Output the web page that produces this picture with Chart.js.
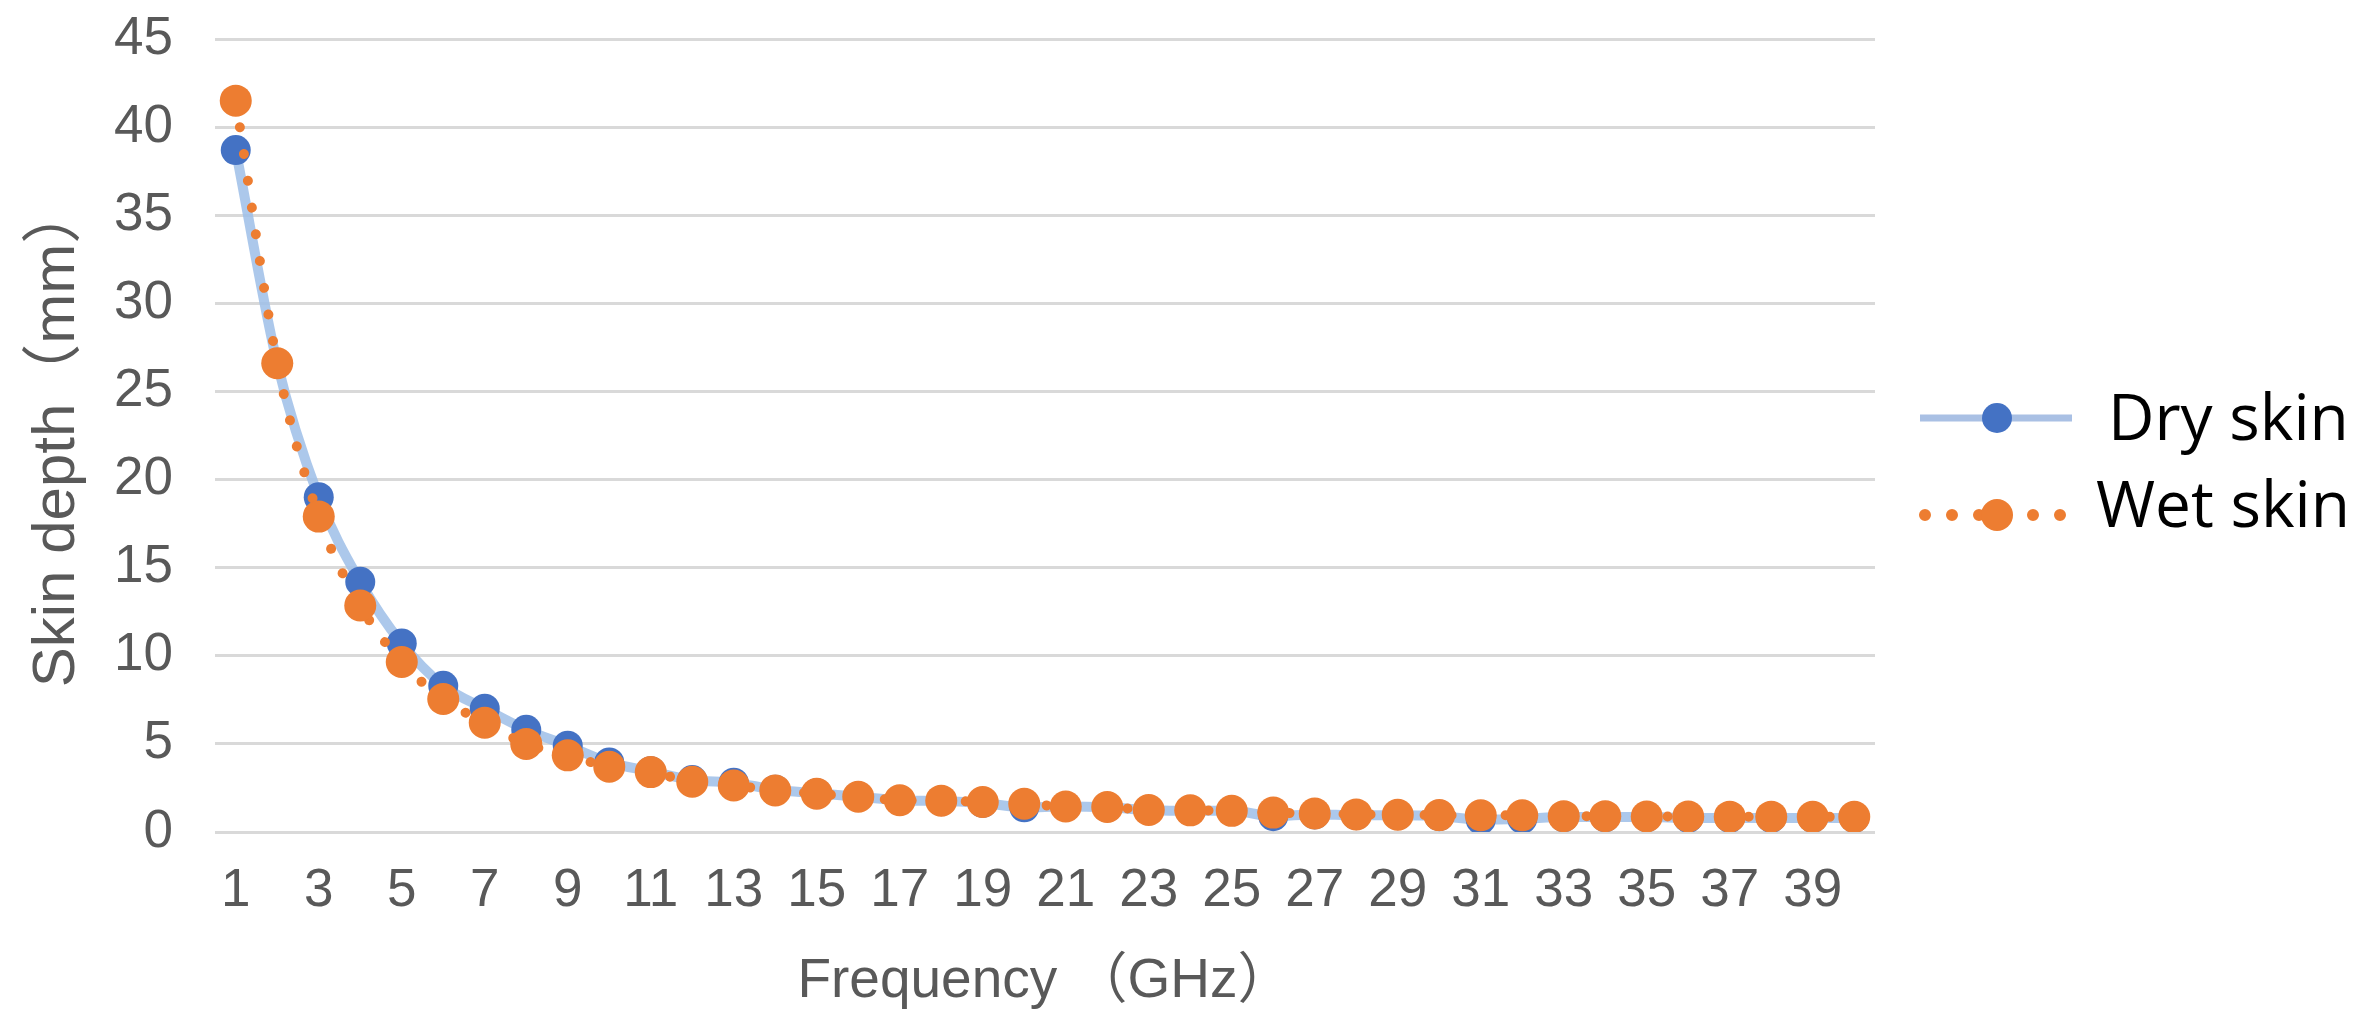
<!DOCTYPE html>
<html><head><meta charset="utf-8">
<script src="https://cdn.jsdelivr.net/npm/chart.js@4.4.1/dist/chart.umd.min.js"></script>
<style>html,body{margin:0;padding:0;background:#fff;}#wrap{width:2365px;height:1025px;position:relative;}</style>
</head><body><div id="wrap"><canvas id="c" width="2365" height="1025"></canvas></div>
<script>
// ---- data ----
const frequencies = [1,2,3,4,5,6,7,8,9,10,11,12,13,14,15,16,17,18,19,20,21,22,23,24,25,26,27,28,29,30,31,32,33,34,35,36,37,38,39,40];
const xTickLabels = ['1','3','5','7','9','11','13','15','17','19','21','23','25','27','29','31','33','35','37','39'];
const yTickValues = [0,5,10,15,20,25,30,35,40,45];
const drySkin = [38.7,26.6,19.0,14.2,10.7,8.3,7.0,5.8,4.9,3.95,3.45,2.95,2.8,2.4,2.2,2.0,1.8,1.75,1.65,1.4,1.45,1.4,1.25,1.2,1.2,0.9,1.0,0.95,0.95,0.9,0.7,0.75,0.85,0.85,0.85,0.8,0.8,0.8,0.8,0.8];
const wetSkin = [41.5,26.6,17.9,12.85,9.65,7.55,6.2,5.0,4.35,3.7,3.4,2.85,2.64,2.36,2.17,2.0,1.8,1.78,1.7,1.6,1.45,1.42,1.25,1.23,1.2,1.1,1.05,1.0,0.98,0.96,0.95,0.95,0.9,0.9,0.88,0.88,0.87,0.87,0.86,0.86];
const seriesNames = ['Dry skin','Wet skin'];
const xTitle = 'Frequency （GHz）';
const yTitle = 'Skin depth（mm）';

// ---- styles ----
const DRY_MARK = '#4472C4', DRY_LINE = 'rgba(157,190,232,0.85)';
const WET = '#ED7D31';
const TICK_COLOR = '#595959';
const FONT_FAMILY = '"Liberation Sans", Arial, "Noto Sans CJK SC", sans-serif';

const legendPlugin = {
  id: 'sideLegend',
  afterDraw(chart) {
    const ctx = chart.ctx;
    const ds = chart.data.datasets;
    ctx.save();
    // Dry skin entry
    let y = 418;
    ctx.strokeStyle = '#a9c0e4'; ctx.lineWidth = 7; ctx.lineCap = 'butt'; ctx.setLineDash([]);
    ctx.beginPath(); ctx.moveTo(1920, y); ctx.lineTo(2072, y); ctx.stroke();
    ctx.fillStyle = DRY_MARK; ctx.beginPath(); ctx.arc(1997, y, 15, 0, Math.PI*2); ctx.fill();
    ctx.fillStyle = '#000'; ctx.font = '64px "Open Sans", "Noto Sans", sans-serif';
    ctx.textBaseline = 'middle'; ctx.textAlign = 'left';
    ctx.fillText(ds[0].label, 2108, y + 4);
    // Wet skin entry
    y = 515;
    ctx.strokeStyle = WET; ctx.lineWidth = 12; ctx.lineCap = 'round'; ctx.setLineDash([0, 27]);
    ctx.beginPath(); ctx.moveTo(1925, y); ctx.lineTo(2070, y); ctx.stroke();
    ctx.setLineDash([]);
    ctx.fillStyle = WET; ctx.beginPath(); ctx.arc(1997, y, 16, 0, Math.PI*2); ctx.fill();
    ctx.fillStyle = '#000';
    ctx.fillText(ds[1].label, 2096, y - 6);
    ctx.restore();
  }
};

new Chart(document.getElementById('c'), {
  type: 'line',
  data: {
    labels: frequencies,
    datasets: [
      {
        label: seriesNames[0], data: drySkin, order: 2,
        borderColor: DRY_LINE, borderWidth: 10, cubicInterpolationMode: 'monotone',
        pointRadius: 15, pointBackgroundColor: DRY_MARK, pointBorderColor: DRY_MARK, pointBorderWidth: 0
      },
      {
        label: seriesNames[1], data: wetSkin, order: 1,
        borderColor: WET, borderWidth: 10, borderDash: [0.01, 27], borderCapStyle: 'round',
        cubicInterpolationMode: 'monotone',
        pointRadius: 16, pointBackgroundColor: WET, pointBorderColor: WET, pointBorderWidth: 0
      }
    ]
  },
  options: {
    responsive: false, animation: false, devicePixelRatio: 1,
    layout: { padding: { left: 0, top: 39, right: 490, bottom: 0 } },
    plugins: { legend: { display: false }, tooltip: { enabled: false } },
    scales: {
      x: {
        type: 'category', offset: true,
        grid: { display: false, drawTicks: false },
        border: { display: false },
        ticks: {
          autoSkip: false, maxRotation: 0, minRotation: 0, padding: 28,
          color: TICK_COLOR, font: { family: FONT_FAMILY, size: 53 },
          callback: function(v, i) { const l = String(this.getLabelForValue(v)); return xTickLabels.includes(l) ? l : ''; }
        },
        title: { display: true, text: xTitle, color: TICK_COLOR, font: { family: FONT_FAMILY, size: 55 }, padding: { top: 0, bottom: 10 } },
        afterFit: (s) => { s.height = 1025 - 832; s.paddingLeft = 0; s.paddingRight = 0; }
      },
      y: {
        min: 0, max: 45,
        grid: { color: '#d9d9d9', lineWidth: 3, drawTicks: false },
        border: { display: false },
        ticks: {
          stepSize: 5, padding: 42, color: TICK_COLOR, font: { family: FONT_FAMILY, size: 53 },
          callback: (v) => yTickValues.includes(v) ? String(v) : ''
        },
        title: { display: true, text: yTitle, color: TICK_COLOR, font: { family: FONT_FAMILY, size: 60 }, padding: { top: 21, bottom: 0 } },
        afterFit: (s) => { s.width = 215; s.paddingTop = 0; s.paddingBottom = 0; }
      }
    }
  },
  plugins: [legendPlugin]
});
</script></body></html>
